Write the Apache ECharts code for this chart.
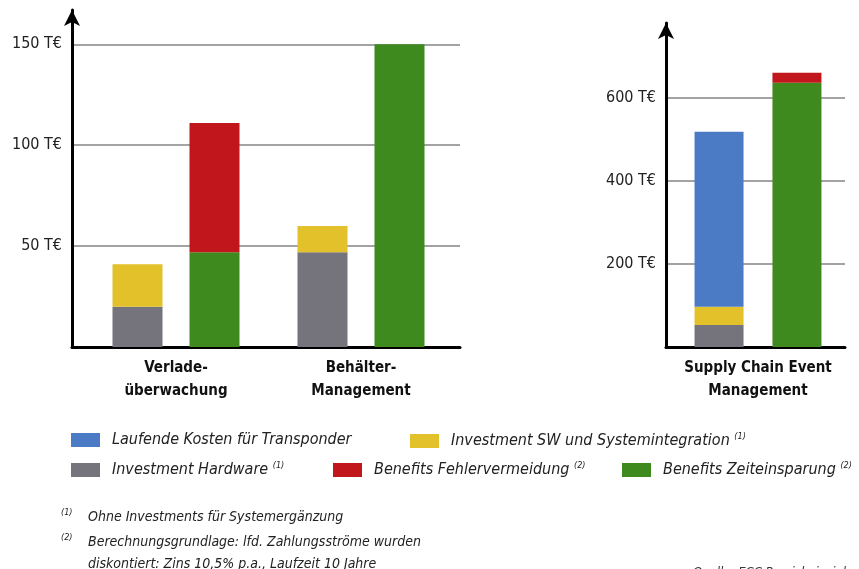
<!DOCTYPE html>
<html>
<head>
<meta charset="utf-8">
<script src="https://cdn.jsdelivr.net/npm/echarts@6/dist/echarts.min.js"></script>
<style>
html,body{margin:0;padding:0;background:#fff;}
#c{width:859px;height:569px;}
</style>
</head>
<body>
<div id="c"></div>
<script>
// ---- data ----
var catsLeft = ['Verlade-\nüberwachung', 'Behälter-\nManagement'];
var catsRight = ['Supply Chain Event\nManagement'];

var names = ['Laufende Kosten für Transponder', 'Investment SW und Systemintegration', 'Investment Hardware', 'Benefits Fehlervermeidung', 'Benefits Zeiteinsparung'];
var supers = {'Investment SW und Systemintegration': '(1)', 'Investment Hardware': '(1)', 'Benefits Fehlervermeidung': '(2)', 'Benefits Zeiteinsparung': '(2)'};

// left chart (T€)
var hardwareLeft = [20, 47];
var swLeft = [21, 13];
var zeitLeft = [47, 150];
var fehlerLeft = [64, 0];
// right chart (T€)
var hardwareRight = [53];
var swRight = [44];
var laufendRight = [421];
var zeitRight = [636];
var fehlerRight = [24];

var leftTicks = [50, 100, 150];
var rightTicks = [200, 400, 600];

var footnotes = [
  ['(1)', 'Ohne Investments für Systemergänzung'],
  ['(2)', 'Berechnungsgrundlage: lfd. Zahlungsströme wurden'],
  ['', 'diskontiert: Zins 10,5% p.a., Laufzeit 10 Jahre']
];
var sourceText = 'Quelle: ECC Praxisbeispiel';

// ---- style ----
var FONT = '"Liberation Sans Narrow", "DejaVu Sans Condensed", sans-serif';
var colors = {
  'Laufende Kosten für Transponder': '#4a7bc4',
  'Investment SW und Systemintegration': '#e2c12b',
  'Investment Hardware': '#75747c',
  'Benefits Fehlervermeidung': '#c1161b',
  'Benefits Zeiteinsparung': '#3e8a1f'
};

var chart = echarts.init(document.getElementById('c'));

function yLabelAxis(gridIndex, max, interval, ticks) {
  return {
    gridIndex: gridIndex, type: 'value', min: 0, max: max, interval: interval,
    axisLine: {show: true, lineStyle: {color: '#000', width: 3}, symbol: ['none', 'arrow'], symbolSize: [12, 16], symbolOffset: [0, 0]},
    axisTick: {show: false},
    splitLine: {show: true, showMinLine: false, showMaxLine: false, lineStyle: {color: '#a3a3a3', width: 2}},
    axisLabel: {
      margin: 10, color: '#222', fontFamily: FONT, fontSize: 16,
      formatter: function (v) { return ticks.indexOf(v) >= 0 ? v + ' T€' : ''; }
    }
  };
}
function hiddenY(gridIndex, max) {
  return {gridIndex: gridIndex, type: 'value', min: 0, max: max, show: false, splitLine: {show: false}};
}
function baseX(gridIndex) {
  return {gridIndex: gridIndex, type: 'value', min: 0, max: 1, axisLine: {show: true, onZero: false, lineStyle: {color: '#000', width: 3}}, axisTick: {show: false}, axisLabel: {show: false}, splitLine: {show: false}};
}
function catX(gridIndex, data) {
  return {
    gridIndex: gridIndex, type: 'category', data: data,
    axisLine: {show: false}, axisTick: {show: false},
    axisLabel: {margin: 10, color: '#111', fontFamily: FONT, fontSize: 15, fontWeight: 'bold', lineHeight: 23}
  };
}
function bar(name, data, xi, stack, gap, width) {
  return {
    name: name, type: 'bar', xAxisIndex: xi, yAxisIndex: xi, stack: stack + xi,
    data: data, barWidth: width, barGap: gap,
    itemStyle: {color: colors[name]}, emphasis: {disabled: true}
  };
}

var legends = [
  [names[0], 71, 432], [names[1], 410, 432],
  [names[2], 71, 461], [names[3], 333, 461], [names[4], 622, 461]
].map(function (l) {
  return {
    data: [l[0]], left: l[1], top: l[2], padding: 0, icon: 'rect',
    itemWidth: 29, itemHeight: 14, selectedMode: false,
    formatter: function (n) { return n + (supers[n] ? ' {s|' + supers[n] + '}' : ''); },
    textStyle: {
      fontFamily: FONT, fontSize: 16, fontStyle: 'italic', color: '#222', padding: [0, 0, 0, 7],
      rich: {s: {fontFamily: FONT, fontSize: 9, fontStyle: 'italic', color: '#222', padding: [0, 0, 9, 0]}}
    }
  };
});

var graphics = [];
var fy = [518, 543, 565];
footnotes.forEach(function (f, i) {
  if (f[0]) {
    graphics.push({type: 'text', left: 61, top: fy[i] - 10, style: {text: f[0], font: 'italic 9px ' + FONT, fill: '#222'}});
  }
  graphics.push({type: 'text', left: 88, top: fy[i] - 8, style: {text: f[1], font: 'italic 14px ' + FONT, fill: '#222'}});
});
graphics.push({type: 'text', left: 693, top: 566, style: {text: sourceText, font: 'italic 13px ' + FONT, fill: '#333'}});

chart.setOption({
  animation: false,
  backgroundColor: '#fff',
  grid: [
    {left: 72, top: 10, width: 388, height: 337},
    {left: 83.5, top: 10, width: 370, height: 337},
    {left: 666, top: 23, width: 179, height: 324},
    {left: 666, top: 23, width: 184, height: 324}
  ],
  xAxis: [baseX(0), catX(1, catsLeft), baseX(2), catX(3, catsRight)],
  yAxis: [yLabelAxis(0, 167, 50, leftTicks), hiddenY(1, 167), yLabelAxis(2, 780, 200, rightTicks), hiddenY(3, 780)],
  legend: legends,
  graphic: graphics,
  series: [
    bar('Investment Hardware', hardwareLeft, 1, 'cost', '54%', 50),
    bar('Investment SW und Systemintegration', swLeft, 1, 'cost', '54%', 50),
    bar('Benefits Zeiteinsparung', zeitLeft, 1, 'ben', '54%', 50),
    bar('Benefits Fehlervermeidung', fehlerLeft, 1, 'ben', '54%', 50),
    bar('Investment Hardware', hardwareRight, 3, 'cost', '59%', 49),
    bar('Investment SW und Systemintegration', swRight, 3, 'cost', '59%', 49),
    bar('Laufende Kosten für Transponder', laufendRight, 3, 'cost', '59%', 49),
    bar('Benefits Zeiteinsparung', zeitRight, 3, 'ben', '59%', 49),
    bar('Benefits Fehlervermeidung', fehlerRight, 3, 'ben', '59%', 49)
  ]
});
</script>
</body>
</html>
